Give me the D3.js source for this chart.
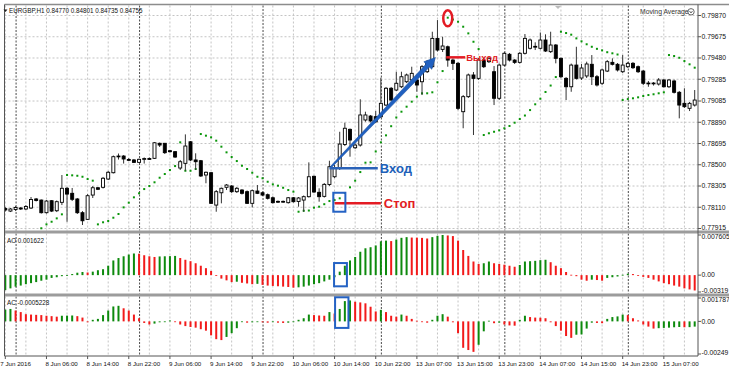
<!DOCTYPE html>
<html>
<head>
<meta charset="utf-8">
<script src="https://cdn.jsdelivr.net/npm/d3@7/dist/d3.min.js"></script>
<style>
  body { margin: 0; background: #fff; }
  svg text { font-family: "Liberation Sans", Arial, sans-serif; }
</style>
</head>
<body>
<div id="chart"></div>
<script>
const width = 729;
const height = 375;

// EURGBP H1, bar 0 = 7 Jun 22:00
const opens = [0.78098,0.78075,0.78089,0.78103,0.78094,0.78103,0.78186,0.78176,0.78060,0.78170,
  0.78078,0.78155,0.78284,0.78238,0.78186,0.78060,0.77999,0.78222,0.78289,0.78293,
  0.78369,0.78427,0.78574,0.78580,0.78548,0.78544,0.78522,0.78553,0.78557,0.78559,
  0.78697,0.78697,0.78629,0.78620,0.78470,0.78513,0.78711,0.78544,0.78537,0.78406,
  0.78427,0.78130,0.78243,0.78293,0.78305,0.78253,0.78268,0.78253,0.78146,0.78259,
  0.78243,0.78225,0.78197,0.78164,0.78158,0.78152,0.78197,0.78163,0.78176,0.78207,
  0.78394,0.78247,0.78210,0.78319,0.78390,0.78467,0.78686,0.78825,0.78656,0.78681,
  0.78911,0.78947,0.78941,0.78941,0.79048,0.79202,0.79186,0.79216,0.79262,0.79278,
  0.79278,0.79262,0.79354,0.79400,0.79660,0.79559,0.79583,0.79461,0.79431,0.78987,
  0.79125,0.79324,0.79293,0.79461,0.79446,0.79354,0.79110,0.79415,0.79514,0.79461,
  0.79440,0.79523,0.79569,0.79587,0.79569,0.79645,0.79538,0.79599,0.79477,0.79293,
  0.79216,0.79415,0.79296,0.79315,0.79422,0.79308,0.79248,0.79360,0.79440,0.79422,
  0.79354,0.79400,0.79431,0.79400,0.79360,0.79250,0.79245,0.79241,0.79278,0.79216,
  0.79269,0.79165,0.79064,0.79018,0.79048];
const highs = [0.78112,0.78103,0.78121,0.78112,0.78130,0.78204,0.78195,0.78181,0.78176,0.78176,
  0.78172,0.78406,0.78296,0.78287,0.78195,0.78075,0.78231,0.78305,0.78296,0.78388,
  0.78443,0.78585,0.78603,0.78589,0.78562,0.78553,0.78557,0.78567,0.78567,0.78709,
  0.78704,0.78700,0.78635,0.78626,0.78544,0.78779,0.78718,0.78605,0.78544,0.78438,
  0.78433,0.78268,0.78291,0.78323,0.78314,0.78296,0.78277,0.78264,0.78273,0.78314,
  0.78254,0.78236,0.78209,0.78172,0.78172,0.78204,0.78204,0.78204,0.78218,0.78522,
  0.78401,0.78284,0.78332,0.78537,0.78498,0.78803,0.78886,0.78833,0.78695,0.79101,
  0.78987,0.78957,0.78993,0.79299,0.79214,0.79214,0.79354,0.79354,0.79337,0.79400,
  0.79287,0.79415,0.79461,0.79721,0.79828,0.79675,0.79594,0.79475,0.79443,0.79140,
  0.79337,0.79351,0.79480,0.79480,0.79489,0.79406,0.79429,0.79535,0.79526,0.79470,
  0.79535,0.79700,0.79659,0.79624,0.79714,0.79697,0.79721,0.79608,0.79484,0.79305,
  0.79429,0.79583,0.79425,0.79446,0.79507,0.79324,0.79383,0.79461,0.79477,0.79434,
  0.79507,0.79443,0.79443,0.79411,0.79370,0.79269,0.79259,0.79296,0.79287,0.79287,
  0.79282,0.79177,0.79202,0.79076,0.79186];
const lows = [0.78071,0.78066,0.78075,0.78085,0.78085,0.78094,0.78163,0.78052,0.78052,0.78066,
  0.78066,0.78130,0.77977,0.78167,0.78048,0.77947,0.77993,0.78195,0.78268,0.78282,
  0.78360,0.78420,0.78548,0.78511,0.78534,0.78516,0.78516,0.78511,0.78544,0.78553,
  0.78663,0.78599,0.78612,0.78562,0.78452,0.78445,0.78534,0.78452,0.78388,0.78330,
  0.78140,0.78069,0.78146,0.78268,0.78241,0.78241,0.78227,0.78140,0.78109,0.78231,
  0.78213,0.78181,0.78144,0.78149,0.78149,0.78144,0.78153,0.78115,0.78069,0.78199,
  0.78241,0.78161,0.78199,0.78305,0.78378,0.78452,0.78672,0.78574,0.78645,0.78667,
  0.78895,0.78888,0.78883,0.78929,0.79039,0.79085,0.79177,0.79204,0.79250,0.79269,
  0.79170,0.79140,0.79342,0.79392,0.79539,0.79535,0.79400,0.79370,0.79002,0.78835,
  0.79113,0.78773,0.79278,0.79388,0.79434,0.79048,0.79094,0.79406,0.79448,0.79425,
  0.79429,0.79512,0.79558,0.79553,0.79558,0.79535,0.79526,0.79431,0.79296,0.79094,
  0.79170,0.79282,0.79278,0.79296,0.79232,0.79218,0.79232,0.79351,0.79411,0.79356,
  0.79342,0.79388,0.79379,0.79342,0.79232,0.79216,0.79227,0.79227,0.79209,0.79204,
  0.79154,0.78926,0.79021,0.78993,0.79034];
const closes = [0.78085,0.78094,0.78108,0.78094,0.78117,0.78181,0.78172,0.78060,0.78167,0.78075,
  0.78161,0.78284,0.78231,0.78183,0.78060,0.77986,0.78216,0.78289,0.78275,0.78376,
  0.78431,0.78574,0.78580,0.78553,0.78541,0.78522,0.78550,0.78557,0.78553,0.78702,
  0.78681,0.78611,0.78620,0.78571,0.78528,0.78672,0.78544,0.78528,0.78397,0.78431,
  0.78146,0.78253,0.78284,0.78314,0.78253,0.78284,0.78238,0.78146,0.78262,0.78238,
  0.78222,0.78192,0.78152,0.78158,0.78164,0.78197,0.78161,0.78195,0.78207,0.78390,
  0.78250,0.78207,0.78320,0.78482,0.78470,0.78690,0.78835,0.78727,0.78681,0.78957,
  0.78957,0.78902,0.78895,0.79064,0.79202,0.79094,0.79248,0.79308,0.79324,0.79339,
  0.79232,0.79400,0.79431,0.79660,0.79553,0.79590,0.79461,0.79431,0.79018,0.79125,
  0.79324,0.79293,0.79461,0.79400,0.79477,0.79110,0.79415,0.79523,0.79461,0.79440,
  0.79523,0.79660,0.79645,0.79581,0.79645,0.79544,0.79599,0.79477,0.79308,0.79216,
  0.79415,0.79293,0.79388,0.79425,0.79308,0.79232,0.79370,0.79446,0.79422,0.79370,
  0.79415,0.79431,0.79391,0.79354,0.79248,0.79245,0.79250,0.79278,0.79216,0.79278,
  0.79165,0.79048,0.79033,0.79064,0.79094];

// Parabolic SAR (first bars sit below the visible range)
const sar = [null,null,null,null,null,null,null,
  0.77917,0.77953,0.77977,0.78008,0.78045,
  0.78406,0.78403,0.78399,0.78390,0.78369,0.78354,
  0.77953,0.77972,0.77984,0.78014,0.78048,0.78109,0.78152,0.78201,0.78238,0.78277,0.78305,0.78339,0.78381,0.78415,0.78452,0.78488,
  0.78706,
  0.78445,0.78445,0.78461,
  0.78782,0.78767,0.78752,0.78721,0.78666,0.78614,0.78571,0.78534,0.78491,0.78461,0.78427,0.78390,0.78376,0.78344,0.78320,0.78308,0.78289,0.78268,0.78253,
  0.78069,0.78078,0.78080,0.78106,0.78115,0.78138,0.78167,0.78176,0.78192,0.78241,0.78293,0.78354,0.78433,0.78519,0.78522,0.78622,0.78706,0.78770,0.78854,0.78934,0.78987,0.79033,0.79079,0.79125,0.79156,0.79156,0.79165,0.79257,0.79360,
  0.79850,0.79833,0.79813,0.79767,0.79706,0.79629,0.79562,
  0.78773,0.78789,0.78803,0.78816,0.78835,0.78856,0.78886,0.78920,0.78952,0.79002,0.79055,0.79106,0.79168,0.79227,0.79305,
  0.79721,0.79709,0.79694,0.79660,0.79633,0.79606,0.79583,0.79564,0.79550,0.79533,0.79523,0.79512,
  0.79094,0.79103,0.79110,0.79119,0.79131,0.79140,0.79147,0.79156,0.79165,
  0.79507,0.79498,0.79482,0.79452,0.79422,0.79391];

// Awesome Oscillator
const aoValues = [-0.00284,-0.00251,-0.00218,-0.00198,-0.00172,-0.00152,-0.00132,-0.00106,-0.00086,-0.00053,
  -0.00040,-0.00020,-0.00007,0.00020,0.00046,0.00059,0.00050,0.00066,0.00093,0.00112,
  0.00178,0.00278,0.00324,0.00357,0.00390,0.00410,0.00406,0.00377,0.00357,0.00344,
  0.00354,0.00357,0.00360,0.00364,0.00324,0.00291,0.00264,0.00225,0.00178,0.00132,
  0.00079,-0.00007,-0.00066,-0.00099,-0.00132,-0.00125,-0.00145,-0.00158,-0.00172,-0.00165,
  -0.00185,-0.00198,-0.00205,-0.00211,-0.00218,-0.00225,-0.00238,-0.00231,-0.00218,-0.00198,
  -0.00172,-0.00152,-0.00119,-0.00086,-0.00040,0.00066,0.00178,0.00278,0.00344,0.00443,
  0.00509,0.00529,0.00562,0.00641,0.00654,0.00645,0.00674,0.00707,0.00720,0.00712,
  0.00710,0.00706,0.00694,0.00720,0.00745,0.007605,0.00752,0.00740,0.00654,0.00476,
  0.00364,0.00258,0.00212,0.00225,0.00258,0.00225,0.00212,0.00198,0.00178,0.00159,
  0.00192,0.00258,0.00264,0.00271,0.00284,0.00291,0.00245,0.00178,0.00132,0.00059,
  0.00007,-0.00020,-0.00086,-0.00106,-0.00086,-0.00093,-0.00106,-0.00053,-0.00040,-0.00026,
  0.00007,0.00026,0.00020,0.00000,-0.00033,-0.00053,-0.00086,-0.00119,-0.00152,-0.00172,
  -0.00198,-0.00218,-0.00251,-0.00271,-0.00291];

// Accelerator Oscillator
const acValues = [0.00090,0.00095,0.00083,0.00071,0.00055,0.00052,0.00050,0.00048,0.00043,0.00040,
  0.00036,0.00043,0.00044,0.00045,0.00040,0.00029,-0.00007,0.00012,0.00019,0.00048,
  0.00083,0.00114,0.00119,0.00100,0.00083,0.00052,0.00024,-0.00012,-0.00024,-0.00017,
  -0.00007,0.00000,0.00007,-0.00005,-0.00024,-0.00036,-0.00043,-0.00048,-0.00060,-0.00071,
  -0.00107,-0.00136,-0.00143,-0.00119,-0.00090,-0.00052,-0.00005,-0.00010,-0.00007,-0.00002,
  -0.00007,-0.00010,-0.00005,-0.00010,-0.00012,-0.00010,-0.00003,0.00012,0.00024,0.00052,
  0.00048,0.00045,0.00043,0.00071,0.00060,0.00095,0.00155,0.00160,0.00150,0.00145,
  0.00138,0.00112,0.00076,0.00088,0.00071,0.00043,0.00036,0.00052,0.00043,0.00019,
  0.00005,-0.00005,-0.00010,0.00012,0.00043,0.00055,0.00036,-0.00007,-0.00090,-0.00202,
  -0.00219,-0.00233,-0.00179,-0.00076,0.00005,-0.00014,-0.00010,-0.00024,-0.00031,-0.00033,
  0.00012,0.00043,0.00033,0.00029,0.00028,0.00024,-0.00007,-0.00036,-0.00071,-0.00112,
  -0.00126,-0.00102,-0.00100,-0.00055,-0.00010,-0.00012,-0.00014,0.00019,0.00033,0.00038,
  0.00052,0.00048,0.00024,0.00007,-0.00024,-0.00040,-0.00055,-0.00052,-0.00050,-0.00048,
  -0.00045,-0.00043,-0.00045,-0.00044,-0.00040];

const priceTicks = [0.79870, 0.79675, 0.79480, 0.79285, 0.79085, 0.78890, 0.78695, 0.78500, 0.78305, 0.78110, 0.77915];
const aoTicks = [0.007605, 0, -0.003198];
const acTicks = [0.001787, 0, -0.002494];
const aoTickLabels = ['0.007605', '0.00', '-0.00319'];
const acTickLabels = ['0.001787', '0.00', '-0.00249'];
const timeBars = [0, 8, 16, 24, 32, 40, 48, 56, 64, 72, 80, 88, 96, 104, 112, 120, 128];
const timeTexts = ['7 Jun 2016', '8 Jun 06:00', '8 Jun 14:00', '8 Jun 22:00', '9 Jun 06:00', '9 Jun 14:00',
  '9 Jun 22:00', '10 Jun 06:00', '10 Jun 14:00', '10 Jun 22:00', '13 Jun 07:00', '13 Jun 15:00',
  '13 Jun 23:00', '14 Jun 07:00', '14 Jun 15:00', '14 Jun 23:00', '15 Jun 07:00'];
const daySeparators = [2, 26, 50, 73, 97, 121];

// trade annotations
const entryPrice = 0.78467;
const stopPrice = 0.78146;
const exitPrice = 0.79486;

const svg = d3.select('#chart')
  .append('svg')
  .attr('width', width)
  .attr('height', height);

const plotLeft = 4.5;
const plotRight = 698;

const x = d3.scaleLinear().domain([0, 134]).range([5.3, 694.7]);
const y = d3.scaleLinear().domain([0.77915, 0.79870]).range([228.5, 15.5]);
const yAO = d3.scaleLinear().domain([-0.003198, 0.007605]).range([292, 235]);
const yAC = d3.scaleLinear().domain([-0.002494, 0.001787]).range([354, 298]);

const panels = [
  { id: 'main', top: 5.5, bottom: 230.5 },
  { id: 'ao', top: 233.5, bottom: 293.5 },
  { id: 'ac', top: 296.5, bottom: 356 }
];

// clip paths per panel
const defs = svg.append('defs');
panels.forEach(function (p) {
  defs.append('clipPath').attr('id', 'clip-' + p.id)
    .append('rect')
    .attr('x', plotLeft).attr('y', p.top)
    .attr('width', plotRight - plotLeft).attr('height', p.bottom - p.top);
});

// grid
const grid = svg.append('g');
panels.forEach(function (p) {
  grid.selectAll('.vgrid-' + p.id)
    .data(d3.range(0, 135, 4))
    .enter()
    .append('line')
    .attr('x1', d => x(d)).attr('x2', d => x(d))
    .attr('y1', p.top).attr('y2', p.bottom)
    .attr('stroke', '#c4c4c4')
    .attr('stroke-dasharray', '2,2');
  grid.selectAll('.sep-' + p.id)
    .data(daySeparators)
    .enter()
    .append('line')
    .attr('x1', d => x(d) + 0.5).attr('x2', d => x(d) + 0.5)
    .attr('y1', p.top).attr('y2', p.bottom)
    .attr('stroke', '#4a4a4a')
    .attr('stroke-dasharray', '2,1.5');
});
grid.selectAll('.hgrid')
  .data(priceTicks)
  .enter()
  .append('line')
  .attr('x1', plotLeft).attr('x2', plotRight)
  .attr('y1', d => y(d)).attr('y2', d => y(d))
  .attr('stroke', '#c4c4c4')
  .attr('stroke-dasharray', '2,2');

// Parabolic SAR dots
const main = svg.append('g').attr('clip-path', 'url(#clip-main)');
main.selectAll('.sar')
  .data(sar.map((v, i) => ({ i: i, v: v })).filter(d => d.v !== null))
  .enter()
  .append('rect')
  .attr('x', d => x(d.i) - 1)
  .attr('y', d => y(d.v) - 1)
  .attr('width', 2).attr('height', 2)
  .attr('fill', '#0a960a');

// candles
const candles = opens.map((o, i) => ({ i: i, o: o, h: highs[i], l: lows[i], c: closes[i] }));
main.selectAll('.wick')
  .data(candles)
  .enter()
  .append('line')
  .attr('x1', d => x(d.i)).attr('x2', d => x(d.i))
  .attr('y1', d => y(d.h)).attr('y2', d => y(d.l))
  .attr('stroke', '#333')
  .attr('stroke-width', 1);
main.selectAll('.body')
  .data(candles)
  .enter()
  .append('rect')
  .attr('x', d => x(d.i) - 1.5)
  .attr('y', d => y(Math.max(d.o, d.c)))
  .attr('width', 3)
  .attr('height', d => Math.max(0.8, Math.abs(y(d.o) - y(d.c))))
  .attr('fill', d => d.c >= d.o ? '#fff' : '#000')
  .attr('stroke', '#000')
  .attr('stroke-width', 0.9);

// oscillator histograms
function histogram(values, scale, panelId) {
  const g = svg.append('g').attr('clip-path', 'url(#clip-' + panelId + ')');
  g.selectAll('rect')
    .data(values)
    .enter()
    .append('rect')
    .attr('x', (d, i) => x(i) - 1)
    .attr('width', 2)
    .attr('y', d => Math.min(scale(d), scale(0)))
    .attr('height', d => Math.max(0.8, Math.abs(scale(d) - scale(0))))
    .attr('fill', (d, i) => (i === 0 || d > values[i - 1]) ? '#0d8a0d' : '#f21a1a');
}
histogram(aoValues, yAO, 'ao');
histogram(acValues, yAC, 'ac');

// frame and splitters
svg.append('line').attr('x1', plotLeft).attr('x2', width).attr('y1', 4.5).attr('y2', 4.5)
  .attr('stroke', '#8c8c8c').attr('stroke-width', 1.5);
svg.append('rect').attr('x', plotLeft).attr('y', 230.5).attr('width', width - plotLeft).attr('height', 3)
  .attr('fill', '#9c9c9c');
svg.append('rect').attr('x', plotLeft).attr('y', 293.5).attr('width', width - plotLeft).attr('height', 3)
  .attr('fill', '#9c9c9c');
svg.append('line').attr('x1', plotLeft).attr('x2', plotLeft).attr('y1', 4.5).attr('y2', 356)
  .attr('stroke', '#555');
svg.append('line').attr('x1', plotRight).attr('x2', plotRight).attr('y1', 4.5).attr('y2', 356)
  .attr('stroke', '#555');
svg.append('line').attr('x1', plotLeft).attr('x2', plotRight).attr('y1', 356).attr('y2', 356)
  .attr('stroke', '#555');

// right axes
function rightAxis(ticks, scale, labels, top, bottom) {
  const g = svg.append('g');
  g.selectAll('line')
    .data(ticks)
    .enter()
    .append('line')
    .attr('x1', plotRight).attr('x2', plotRight + 3)
    .attr('y1', d => scale(d)).attr('y2', d => scale(d))
    .attr('stroke', '#555');
  g.selectAll('text')
    .data(ticks)
    .enter()
    .append('text')
    .attr('x', plotRight + 3.5)
    .attr('y', d => Math.min(bottom - 3, Math.max(top + 3, scale(d))) + 2.3)
    .attr('font-size', 6.8)
    .attr('fill', '#111')
    .text((d, i) => labels[i]);
}
rightAxis(priceTicks, y, priceTicks.map(d => d.toFixed(5)), 5.5, 230.5);
rightAxis(aoTicks, yAO, aoTickLabels, 233.5, 293.5);
rightAxis(acTicks, yAC, acTickLabels, 296.5, 356);

// time axis
svg.selectAll('.tick-t')
  .data(timeBars)
  .enter()
  .append('line')
  .attr('x1', d => x(d)).attr('x2', d => x(d))
  .attr('y1', 356).attr('y2', 359)
  .attr('stroke', '#555');
svg.selectAll('.time-label')
  .data(timeBars)
  .enter()
  .append('text')
  .attr('x', (d, i) => i === 0 ? x(d) - 5 : x(d) - 1)
  .attr('y', 366)
  .attr('font-size', 6.2)
  .attr('fill', '#111')
  .text((d, i) => timeTexts[i]);

// panel titles
svg.append('path').attr('d', 'M3.5,9.5 L7.5,9.5 L5.5,12 Z').attr('fill', '#222');
svg.append('text').attr('x', 9).attr('y', 13).attr('font-size', 6.3).attr('fill', '#111')
  .text('EURGBP,H1  0.84770 0.84801 0.84735 0.84755');
svg.append('text').attr('x', 7).attr('y', 243).attr('font-size', 6.3).attr('fill', '#111')
  .text('AO 0.001622');
svg.append('text').attr('x', 7).attr('y', 305).attr('font-size', 6.3).attr('fill', '#111')
  .text('AC -0.0005228');
svg.append('text').attr('x', 640).attr('y', 14).attr('font-size', 6.8).attr('fill', '#333')
  .text('Moving Average');
svg.append('circle').attr('cx', 691).attr('cy', 11.8).attr('r', 3.2)
  .attr('fill', 'none').attr('stroke', '#444').attr('stroke-width', 0.8);
svg.append('path').attr('d', 'M689.5,11 L691,13 L692.5,11').attr('fill', 'none').attr('stroke', '#444').attr('stroke-width', 0.8);
svg.append('path').attr('d', 'M555,6 L561,6 L558,9 Z').attr('fill', '#bbb');

// annotations
const ann = svg.append('g');

// trend arrow
const tail = [x(63.3), y(0.78479)];
const tip = [x(83.6), y(0.79484)];
const len = Math.hypot(tip[0] - tail[0], tip[1] - tail[1]);
const ux = (tip[0] - tail[0]) / len, uy = (tip[1] - tail[1]) / len;
const nx = -uy, ny = ux;
const headLen = 11, headHalf = 5.5;
const base = [tip[0] - ux * headLen, tip[1] - uy * headLen];
const arrowPts = [
  [tail[0] + nx * 0.8, tail[1] + ny * 0.8],
  [base[0] + nx * 2.3, base[1] + ny * 2.3],
  [base[0] + nx * headHalf, base[1] + ny * headHalf],
  tip,
  [base[0] - nx * headHalf, base[1] - ny * headHalf],
  [base[0] - nx * 2.3, base[1] - ny * 2.3],
  [tail[0] - nx * 0.8, tail[1] - ny * 0.8]
];
ann.append('path')
  .attr('d', d3.line()(arrowPts) + 'Z')
  .attr('fill', '#2060c0')
  .attr('stroke', '#1a4f9e')
  .attr('stroke-width', 0.6);

// entry
ann.append('line')
  .attr('x1', x(63)).attr('x2', x(72.4))
  .attr('y1', y(entryPrice)).attr('y2', y(entryPrice))
  .attr('stroke', '#2a62b8').attr('stroke-width', 2.5);
ann.append('text')
  .attr('x', x(72.4) + 2).attr('y', y(entryPrice) + 4.6)
  .attr('font-size', 13).attr('font-weight', 'bold').attr('fill', '#2060b8')
  .text('Вход');

// stop
ann.append('line')
  .attr('x1', x(64)).attr('x2', x(73))
  .attr('y1', y(stopPrice)).attr('y2', y(stopPrice))
  .attr('stroke', '#e31b23').attr('stroke-width', 2.5);
ann.append('text')
  .attr('x', x(73) + 3).attr('y', y(stopPrice) + 4.6)
  .attr('font-size', 13).attr('font-weight', 'bold').attr('fill', '#e31b23')
  .text('Стоп');

// exit
ann.append('line')
  .attr('x1', x(85.7)).attr('x2', x(89.4))
  .attr('y1', y(exitPrice)).attr('y2', y(exitPrice))
  .attr('stroke', '#e31b23').attr('stroke-width', 2.5);
ann.append('text')
  .attr('x', x(89.4) + 1).attr('y', y(exitPrice) + 3.5)
  .attr('font-size', 9.5).attr('font-weight', 'bold').attr('fill', '#e31b23')
  .text('Выход');

// highlight boxes
const boxStyle = function (sel) {
  sel.attr('fill', 'none').attr('stroke', '#2462c4').attr('stroke-width', 2);
};
ann.append('rect')
  .attr('x', x(63.75)).attr('y', y(0.78243))
  .attr('width', x(66.1) - x(63.75)).attr('height', y(0.78069) - y(0.78243))
  .call(boxStyle);
ann.append('rect')
  .attr('x', x(63.9)).attr('y', yAO(0.00229))
  .attr('width', x(66.4) - x(63.9)).attr('height', yAO(-0.00212) - yAO(0.00229))
  .call(boxStyle);
ann.append('rect')
  .attr('x', x(64.1)).attr('y', yAC(0.00184))
  .attr('width', x(66.7) - x(64.1)).attr('height', yAC(-0.00050) - yAC(0.00184))
  .call(boxStyle);

// SAR reversal mark
ann.append('ellipse')
  .attr('cx', x(86)).attr('cy', y(0.79844))
  .attr('rx', 4.5).attr('ry', 8)
  .attr('fill', 'none').attr('stroke', '#e31b23').attr('stroke-width', 2.5);
</script>
</body>
</html>
